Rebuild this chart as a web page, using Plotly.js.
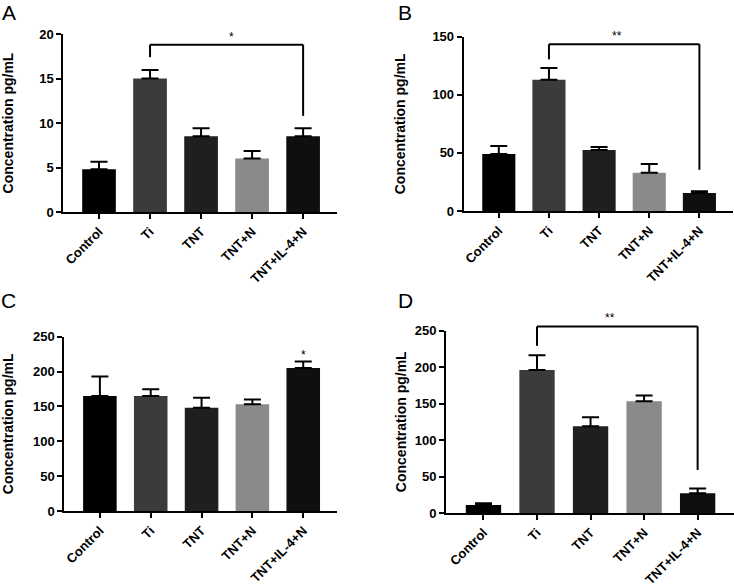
<!DOCTYPE html>
<html>
<head>
<meta charset="utf-8">
<script src="https://cdn.plot.ly/plotly-3.0.1.min.js"></script>
<style>html,body{margin:0;padding:0;background:#fff;}#chart{width:734px;height:587px;}</style>
</head>
<body>
<div id="chart"></div>
<script>
// ---- data ----
const categories = ['Control', 'Ti', 'TNT', 'TNT+N', 'TNT+IL-4+N'];
const valuesA = [4.8, 15.0, 8.5, 6.0, 8.5];
const errorsA = [0.85, 0.95, 0.9, 0.85, 0.9];
const valuesB = [49, 113, 52.5, 33, 15.5];
const errorsB = [7, 10, 2.5, 7.5, 1.5];
const valuesC = [165, 165, 148, 153, 205];
const errorsC = [28, 9.5, 14.5, 7, 9.5];
const valuesD = [11, 196, 119, 153, 27];
const errorsD = [2.5, 20, 12, 8, 6.5];
const barColors = ['#000000', '#3b3b3b', '#1f1f1f', '#8a8a8a', '#0f0f0f'];
const panelLetters = ['A', 'B', 'C', 'D'];
// significance brackets: [fromIndex, toIndex, topY, leftEndY, rightEndY, label]
const bracketA = [1, 4, 18.8, 17.4, 10.8, '*'];
const bracketB = [1, 4, 143.5, 130.5, 35.5, '**'];
const bracketD = [1, 4, 255.5, 229, 59, '**'];
const starC = [4, 224, '*'];

const FONT = 'Liberation Sans, Arial, sans-serif';
const W = 734, H = 587;
const px = v => v / W;
const py = v => 1 - v / H;

function barTrace(vals, errs, xa, ya) {
  return {
    type: 'bar', x: categories, y: vals, xaxis: xa, yaxis: ya,
    width: 0.66,
    marker: {color: barColors, line: {width: 0}},
    error_y: {type: 'data', symmetric: false, array: errs, arrayminus: errs.map(() => 0),
              color: '#000', thickness: 2, width: 8.5},
    hoverinfo: 'none', showlegend: false
  };
}

const data = [
  barTrace(valuesA, errorsA, 'x', 'y'),
  barTrace(valuesB, errorsB, 'x2', 'y2'),
  barTrace(valuesC, errorsC, 'x3', 'y3'),
  barTrace(valuesD, errorsD, 'x4', 'y4')
];

function xAxis(domain, yId) {
  return {
    domain: domain, anchor: yId, range: [-0.7, 4.67], type: 'category',
    showline: true, linewidth: 2, linecolor: '#000', ticks: 'outside', ticklen: 5, tickwidth: 2,
    tickcolor: '#000', tickangle: -45, showgrid: false, zeroline: false, automargin: false,
    tickfont: {family: FONT, size: 13, color: '#000', weight: 'bold'}
  };
}
function yAxis(domain, xId, range, dtick, standoff) {
  return {
    domain: domain, anchor: xId, range: range, dtick: dtick,
    showline: true, linewidth: 2, linecolor: '#000', ticks: 'outside', ticklen: 5, tickwidth: 2,
    tickcolor: '#000', showgrid: false, zeroline: false, automargin: false,
    tickfont: {family: FONT, size: 13, color: '#000', weight: 'bold'},
    title: {text: 'Concentration pg/mL', standoff: standoff,
            font: {family: FONT, size: 14, color: '#000', weight: 'bold'}}
  };
}

const layout = {
  width: W, height: H, margin: {l: 0, r: 0, t: 0, b: 0},
  paper_bgcolor: '#fff', plot_bgcolor: 'rgba(0,0,0,0)', showlegend: false,
  xaxis: xAxis([px(63.3), px(337.3)], 'y'),
  yaxis: yAxis([py(212), py(34)], 'x', [0, 20], 5, 24),
  xaxis2: xAxis([px(463.7), px(733)], 'y2'),
  yaxis2: yAxis([py(211), py(36.7)], 'x2', [0, 150], 50, 23),
  xaxis3: xAxis([px(64.3), px(337.3)], 'y3'),
  yaxis3: yAxis([py(511), py(336.7)], 'x3', [0, 250], 50, 22),
  xaxis4: xAxis([px(446), px(733.5)], 'y4'),
  yaxis4: yAxis([py(513), py(330.5)], 'x4', [0, 250], 50, 5)
};

// map data values to paper fractions through each axis' domain and range
function toPaper(ax, v) {
  return ax.domain[0] + (v - ax.range[0]) / (ax.range[1] - ax.range[0]) * (ax.domain[1] - ax.domain[0]);
}

const shapes = [];
const annotations = [];
function addBracket(b, xa, ya) {
  const ln = {color: '#000', width: 2};
  const X0 = toPaper(xa, b[0]), X1 = toPaper(xa, b[1]);
  const Yt = toPaper(ya, b[2]), Yl = toPaper(ya, b[3]), Yr = toPaper(ya, b[4]);
  shapes.push({type: 'line', xref: 'paper', yref: 'paper', x0: X0, x1: X1, y0: Yt, y1: Yt, line: ln});
  shapes.push({type: 'line', xref: 'paper', yref: 'paper', x0: X0, x1: X0, y0: Yt, y1: Yl, line: ln});
  shapes.push({type: 'line', xref: 'paper', yref: 'paper', x0: X1, x1: X1, y0: Yt, y1: Yr, line: ln});
  annotations.push({xref: 'paper', yref: 'paper', x: (X0 + X1) / 2, y: Yt, text: b[5],
    showarrow: false, yanchor: 'bottom', yshift: -1,
    font: {family: FONT, size: 12, color: '#000'}});
}
addBracket(bracketA, layout.xaxis, layout.yaxis);
addBracket(bracketB, layout.xaxis2, layout.yaxis2);
addBracket(bracketD, layout.xaxis4, layout.yaxis4);
annotations.push({xref: 'paper', yref: 'paper', x: toPaper(layout.xaxis3, starC[0]),
  y: toPaper(layout.yaxis3, starC[1]), text: starC[2], showarrow: false,
  yanchor: 'middle', font: {family: FONT, size: 12, color: '#000'}});

const letterPos = [[9, 12.5], [405, 12], [8, 300], [405, 300]];
panelLetters.forEach((t, i) => {
  annotations.push({xref: 'paper', yref: 'paper', x: px(letterPos[i][0]), y: py(letterPos[i][1]),
    text: t, showarrow: false, xanchor: 'center', yanchor: 'middle',
    font: {family: FONT, size: 21, color: '#000'}});
});
layout.shapes = shapes;
layout.annotations = annotations;

Plotly.newPlot('chart', data, layout, {staticPlot: true, displayModeBar: false});
</script>
</body>
</html>
